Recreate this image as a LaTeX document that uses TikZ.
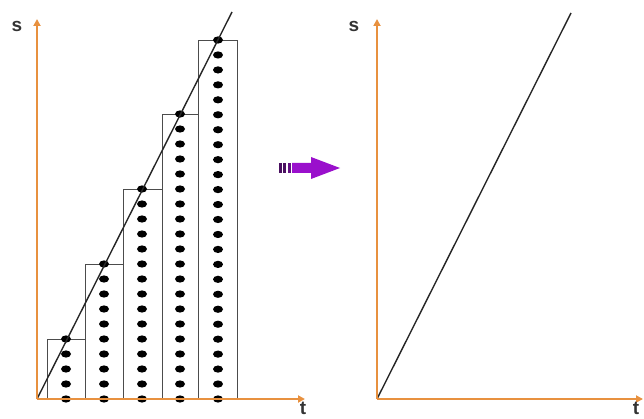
\documentclass[tikz,border=0pt]{standalone}
\usepackage{fontspec}
\setmainfont{Liberation Sans}
\usetikzlibrary{arrows.meta}
\definecolor{axisorange}{HTML}{E8913F}
\definecolor{arrowpurple}{HTML}{9A10CC}
\definecolor{stripepurple}{HTML}{4A1060}
\begin{document}
\begin{tikzpicture}[x=1pt,y=-1pt,
  axis/.style={draw=axisorange, line width=1.8pt, -{Triangle[length=7pt,width=7pt]}},
  barbox/.style={draw=black!70, line width=0.9pt},
  slope/.style={draw=black!85, line width=1.4pt},
  lbl/.style={font=\bfseries\fontsize{19}{19}\selectfont, text=black!80, inner sep=0pt}]
\useasboundingbox (0,0) rectangle (644,419);
% ---------- left panel ----------
\coordinate (O1) at (37,399);
\coordinate (Y1) at (37,19);
\coordinate (X1) at (305,399);
\foreach \l/\r/\top/\c/\n in {47/85/339/66/4, 85/123/264/104/9, 123/162/189/142/14, 162/198/114/180/19, 198/237/40/218/24}{
  \draw[barbox] (\l,399) rectangle (\r,\top);
  \foreach \k in {0,...,\n}
    \fill (\c,{\top+\k*(399-\top)/\n}) ellipse (5pt and 3.6pt);
}
\coordinate (L1) at (232,12);
\draw[slope] (O1) -- (L1);
\draw[axis] (O1) -- (Y1);
\draw[axis] (O1) -- (X1);
\node[lbl] (s1) at (17,26) {s};
\node[lbl, anchor=base] (t1) at (303,414) {t};
% ---------- arrow ----------
\fill[stripepurple] (279,163) rectangle (281.5,173);
\fill[stripepurple] (283,163) rectangle (286,173);
\fill[stripepurple!70!arrowpurple] (287.5,163) rectangle (290.5,173);
\fill[arrowpurple] (292,163) -- (311,163) -- (311,157) -- (340,168) -- (311,179) -- (311,173) -- (292,173) -- cycle;
% ---------- right panel ----------
\coordinate (O2) at (377,399);
\coordinate (Y2) at (377,19);
\coordinate (X2) at (643,399);
\coordinate (L2) at (571,13);
\draw[slope] (O2) -- (L2);
\draw[axis] (O2) -- (Y2);
\draw[axis] (O2) -- (X2);
\node[lbl] (s2) at (354,26) {s};
\node[lbl, anchor=base] (t2) at (636,414) {t};
\end{tikzpicture}
\end{document}
